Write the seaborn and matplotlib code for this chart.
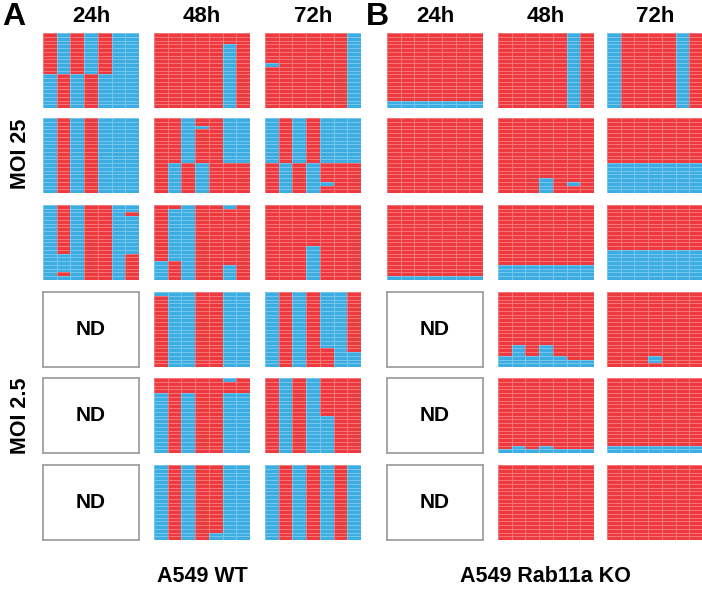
import matplotlib
matplotlib.use("Agg")
import matplotlib.pyplot as plt
from matplotlib.colors import ListedColormap
import numpy as np
import pandas as pd
import seaborn as sns

# -------------------------
# Data: each grid = 7 columns, each column read top->bottom as runs
# "R" = red, "B" = blue, number = how many of the 20 rows
# None = not determined (ND)
# -------------------------
n_rows = 20
times = ["24h", "48h", "72h"]

wt_24h = [
    ["R11B9", "B11R9", "R11B9", "B11R9", "R11B9", "B20", "B20"],
    ["B20", "R20", "B20", "R20", "B20", "B20", "B20"],
    ["B20", "R13B5R1B1", "B20", "R20", "R20", "B20", "B2R1B10R7"],
    None,
    None,
    None,
]
wt_48h = [
    ["R20", "R20", "R20", "R20", "R20", "R3B17", "R20"],
    ["R20", "R12B8", "B12R8", "R2B1R9B8", "R20", "B12R8", "B12R8"],
    ["R15B5", "R1B14R5", "B20", "R20", "R20", "B1R15B4", "R20"],
    ["B1R19", "B20", "B20", "R20", "R20", "B20", "B20"],
    ["R4B16", "R20", "R4B16", "R20", "R20", "B1R3B16", "R4B16"],
    ["B20", "R20", "B20", "R20", "R18B2", "B20", "B20"],
]
wt_72h = [
    ["R8B1R11", "R20", "R20", "R20", "R20", "R20", "B20"],
    ["B12R8", "R12B8", "B12R8", "R12B8", "B12R5B1R2", "B12R8", "B12R8"],
    ["R20", "R20", "R20", "R11B9", "R20", "R20", "R20"],
    ["B20", "R20", "B20", "R20", "B15R5", "B20", "R16B4"],
    ["R20", "B20", "R20", "B20", "R10B10", "R20", "R20"],
    ["B20", "R20", "B20", "R20", "B20", "R20", "B20"],
]

ko_24h = [
    ["R18B2"] * 7,
    ["R20"] * 7,
    ["R19B1"] * 7,
    None,
    None,
    None,
]
ko_48h = [
    ["R20", "R20", "R20", "R20", "R20", "B20", "R20"],
    ["R20", "R20", "R20", "R16B4", "R20", "R17B1R2", "R20"],
    ["R16B4"] * 7,
    ["R17B3", "R14B6", "R17B3", "R14B6", "R17B3", "R18B2", "R18B2"],
    ["R19B1", "R18B2", "R19B1", "R18B2", "R19B1", "R19B1", "R19B1"],
    ["R20"] * 7,
]
ko_72h = [
    ["B20", "R20", "R20", "R20", "R20", "B20", "R20"],
    ["R12B8"] * 7,
    ["R12B8"] * 7,
    ["R20", "R20", "R20", "R17B2R1", "R20", "R20", "R20"],
    ["R18B2"] * 7,
    ["R20"] * 7,
]

panel_letters = ["A", "B"]
panel_labels = ["A549 WT", "A549 Rab11a KO"]
moi_labels = ["MOI 25", "MOI 2.5"]

red = "#EE3A3E"
blue = "#3BADE3"


def expand(col):
    # turn "R11B9" into 20 values (1 = red, 0 = blue)
    out, num, code = [], "", None
    for ch in col + "X":
        if ch.isdigit():
            num += ch
        else:
            if code is not None:
                out += [1 if code == "R" else 0] * int(num)
            code, num = ch, ""
    return out


def grid(cols):
    return pd.DataFrame(np.array([expand(c) for c in cols]).T)


# -------------------------
# Layout (pixels of a 702x591 figure)
# -------------------------
W, H = 702, 591
col_x = [[43, 154, 265], [387, 498, 607]]
row_y = [33, 118, 205, 292, 378, 465]
cw, ch = 96, 75

fig = plt.figure(figsize=(W / 100, H / 100), dpi=100)
plt.rcParams["font.family"] = ["Liberation Sans", "DejaVu Sans"]

cmap = ListedColormap([blue, red])
panels = [[wt_24h, wt_48h, wt_72h], [ko_24h, ko_48h, ko_72h]]

for p, panel in enumerate(panels):
    for t, series in enumerate(panel):
        x0 = col_x[p][t]
        for r, cols in enumerate(series):
            ax = fig.add_axes([x0 / W, 1 - (row_y[r] + ch) / H, cw / W, ch / H])
            if cols is None:
                ax.set_xticks([])
                ax.set_yticks([])
                for s in ax.spines.values():
                    s.set_color("#a0a0a0")
                    s.set_linewidth(1.3)
                ax.text(0.5, 0.5, "ND", ha="center", va="center",
                        fontsize=15, fontweight="bold", transform=ax.transAxes)
                continue
            sns.heatmap(grid(cols), ax=ax, cmap=cmap, vmin=0, vmax=1,
                        cbar=False, linewidths=0.6, linecolor=(1, 1, 1, 0.3),
                        xticklabels=False, yticklabels=False)
            ax.set_xlabel("")
            ax.set_ylabel("")
        fig.text((x0 + cw / 2) / W, 1 - 16 / H, times[t], ha="center",
                 va="center", fontsize=16, fontweight="bold")
    fig.text((col_x[p][0] + col_x[p][2] + cw) / 2 / W, 1 - 576 / H,
             panel_labels[p], ha="center", va="center", fontsize=15.5,
             fontweight="bold")
    fig.text((2 if p == 0 else 366) / W, 1 - 17 / H, panel_letters[p],
             ha="left", va="center", fontsize=23, fontweight="bold")

fig.text(20 / W, 1 - 154 / H, moi_labels[0], rotation=90, ha="center",
         va="center", fontsize=15.5, fontweight="bold")
fig.text(20 / W, 1 - 416 / H, moi_labels[1], rotation=90, ha="center",
         va="center", fontsize=15.5, fontweight="bold")

plt.savefig("out.png", dpi=100)
plt.close()
